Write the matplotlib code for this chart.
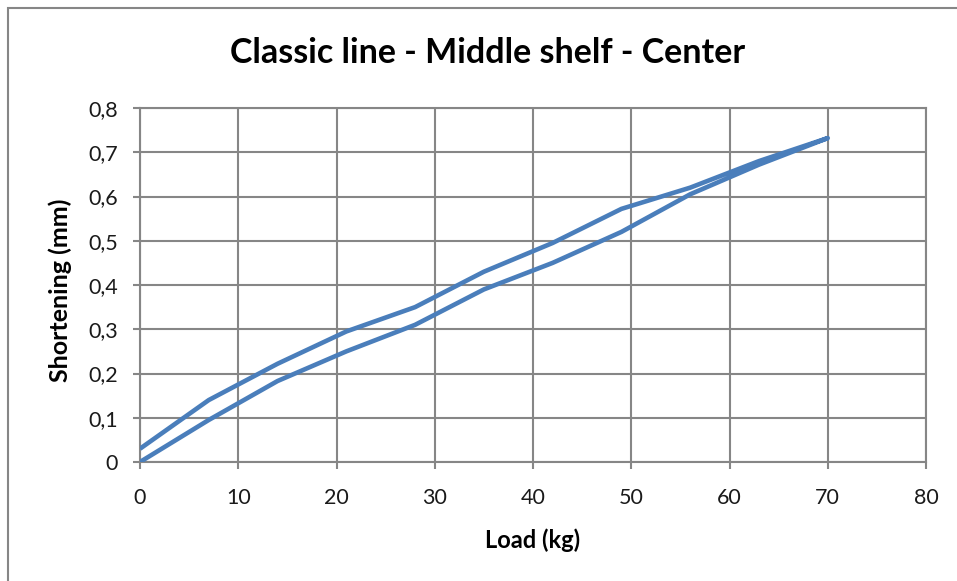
import matplotlib
matplotlib.use("Agg")
import matplotlib.pyplot as plt
from matplotlib.patches import Rectangle
from matplotlib.ticker import FuncFormatter

# Data
load_up = [0, 7, 14, 21, 28, 35, 42, 49, 56, 63, 70]
short_up = [0.0, 0.095, 0.183, 0.25, 0.31, 0.39, 0.45, 0.52, 0.605, 0.672, 0.732]
load_down = [70, 63, 56, 49, 42, 35, 28, 21, 14, 7, 0]
short_down = [0.732, 0.68, 0.62, 0.572, 0.495, 0.43, 0.35, 0.295, 0.222, 0.14, 0.03]

title = "Classic line - Middle shelf - Center"
xlabel = "Load (kg)"
ylabel = "Shortening (mm)"
xticks = [0, 10, 20, 30, 40, 50, 60, 70, 80]
yticks = [0, 0.1, 0.2, 0.3, 0.4, 0.5, 0.6, 0.7, 0.8]

plt.rcParams['font.family'] = ['Lato', 'DejaVu Sans']

W, H = 957, 581
fig = plt.figure(figsize=(W / 100, H / 100), dpi=100)
ax = fig.add_axes([140 / W, 1 - 462 / H, (926 - 140) / W, (462 - 108) / H])

# outer chart frame
fig.patches.append(Rectangle((8 / W, -0.1), 1.2, 1 - 8 / H + 0.1, transform=fig.transFigure,
                             fill=False, edgecolor='#868686', linewidth=1.5))

lc = '#4A7EBB'
ax.plot(load_up + load_down[1:], short_up + short_down[1:], color=lc, linewidth=3.3,
        solid_joinstyle='round', solid_capstyle='butt', zorder=3)

ax.set_xlim(0, 80)
ax.set_ylim(0, 0.8)
ax.set_xticks(xticks)
ax.set_yticks(yticks)
ax.yaxis.set_major_formatter(FuncFormatter(lambda v, p: ('%g' % round(v, 1)).replace('.', ',')))
ax.grid(True, color='#868686', linewidth=1.5)
ax.set_axisbelow(True)
for s in ax.spines.values():
    s.set_color('#868686')
    s.set_linewidth(1.5)
ax.tick_params(axis='both', direction='out', length=5, width=1.5, color='#868686',
               labelsize=15.5, labelcolor='#1a1a1a')
ax.tick_params(axis='x', pad=14)
ax.tick_params(axis='y', pad=11)

fig.text(533 / W, 1 - 548 / H, xlabel, ha='center', va='baseline',
         fontsize=17, fontweight='bold')
fig.text(60 / W, 1 - 290 / H, ylabel, ha='center', va='center', rotation=90,
         fontsize=18, fontweight='bold')
fig.text(488 / W, 1 - 63 / H, title, ha='center', va='baseline',
         fontsize=24.5, fontweight='bold')

fig.savefig('out.png', dpi=100)
